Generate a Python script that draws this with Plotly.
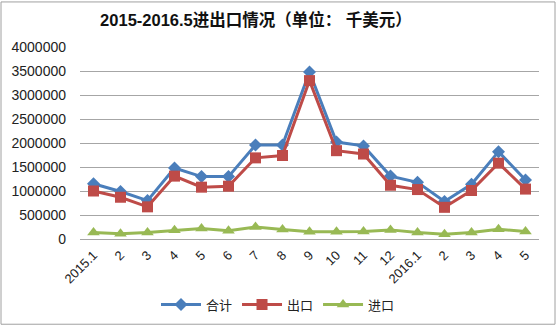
import plotly.graph_objects as go

# Monthly trade, thousand USD
months = ["2015.1", "2", "3", "4", "5", "6", "7", "8", "9", "10", "11", "12",
          "2016.1", "2", "3", "4", "5"]
total = [1150000, 990000, 800000, 1480000, 1300000, 1300000, 1960000, 1960000,
         3480000, 2020000, 1940000, 1310000, 1180000, 780000, 1140000, 1820000, 1230000]
exports = [1000000, 870000, 670000, 1310000, 1080000, 1100000, 1690000, 1740000,
           3300000, 1840000, 1770000, 1120000, 1030000, 660000, 1010000, 1580000, 1040000]
imports = [135000, 110000, 135000, 180000, 220000, 170000, 250000, 200000,
           150000, 150000, 155000, 190000, 135000, 100000, 135000, 205000, 155000]

series_names = ["合计", "出口", "进口"]
series_colors = ["#4A7EBB", "#BE4B48", "#98B954"]
series_symbols = ["diamond", "square", "triangle-up"]
series_sizes = [10, 11, 11]

# unique x positions so repeated month labels stay separate categories
x_idx = list(range(len(months)))

W, H = 556, 331
L, R, T, B = 80, 17, 47, 88
pw, ph = W - L - R, H - T - B

fig = go.Figure()
for name, vals, col, sym, sz in zip(series_names, [total, exports, imports],
                                    series_colors, series_symbols, series_sizes):
    fig.add_trace(go.Scatter(
        x=x_idx, y=vals, name=name, mode="lines+markers",
        line=dict(color=col, width=3),
        marker=dict(symbol=sym, size=sz, color=col),
    ))

font_family = "Liberation Sans, Noto Sans CJK SC, sans-serif"

fig.update_layout(
    width=W, height=H,
    margin=dict(l=L, r=R, t=T, b=B),
    paper_bgcolor="white", plot_bgcolor="white",
    font=dict(family=font_family, size=13, color="#222222"),
    title=dict(text="<b>2015-2016.5进出口情况（单位： 千美元）</b>",
               x=256 / W, xanchor="center", y=1 - 20 / H, yanchor="middle",
               font=dict(size=16.5, color="#111111", family=font_family)),
    showlegend=True,
    legend=dict(orientation="h", x=(278 - L) / pw, xanchor="center",
                y=-(310 - (T + ph)) / ph, yanchor="middle",
                font=dict(size=13), itemwidth=40, tracegroupgap=0,
                bgcolor="rgba(0,0,0,0)"),
    xaxis=dict(
        tickmode="array", tickvals=x_idx, ticktext=months,
        range=[-0.5, len(months) - 0.5], tickangle=-45,
        showgrid=False, zeroline=False, showline=False,
        ticks="", tickfont=dict(size=13), automargin=False,
        ticklabelstandoff=5,
    ),
    yaxis=dict(
        range=[0, 4000000], dtick=500000, tickformat="d",
        showgrid=True, gridcolor="#A6A6A6", gridwidth=1,
        zeroline=True, zerolinecolor="#A6A6A6", zerolinewidth=1,
        showline=False, ticks="", tickfont=dict(size=14),
        ticklabelstandoff=13, automargin=False,
    ),
    shapes=[dict(type="rect", xref="paper", yref="paper",
                 x0=-(L - 1) / pw, x1=1 + (R - 1) / pw,
                 y0=-(B - 1) / ph, y1=1 + (T - 1) / ph,
                 line=dict(color="#A0A0A0", width=1), layer="below")],
)

fig.write_html("out.html")
